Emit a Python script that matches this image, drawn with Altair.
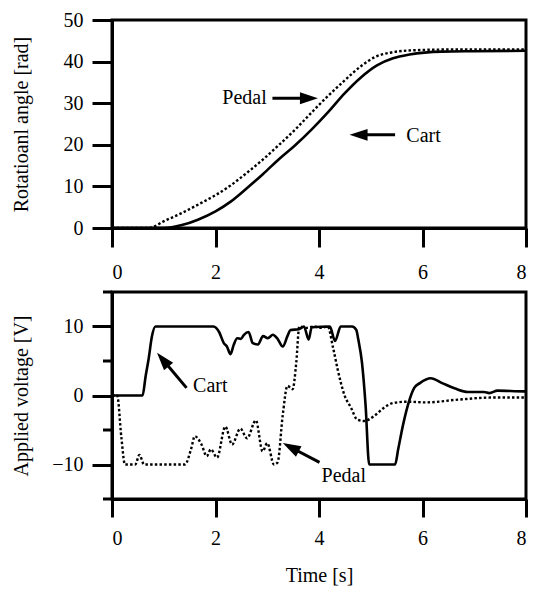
import altair as alt
import pandas as pd

FONT = "Liberation Serif"

# ---------------- Top panel: rotational angle [rad] ----------------
ang_t_cart = [0, 1.0, 1.35, 1.66, 2.0, 2.3, 2.6, 2.92, 3.23, 3.55, 3.86, 4.18,
              4.49, 4.81, 5.12, 5.43, 5.75, 6.38, 7.0, 8.0]
ang_cart = [0, 0, 0.7, 2.0, 4.0, 6.4, 9.5, 13.0, 16.6, 20.0, 23.7, 27.9,
            32.3, 36.2, 39.1, 40.8, 41.7, 42.4, 42.5, 42.6]

ang_t_pedal = [0, 0.7, 1.03, 1.35, 1.66, 2.0, 2.3, 2.6, 2.92, 3.23, 3.55, 3.86, 4.0,
               4.18, 4.49, 4.81, 5.1, 5.4, 5.8, 6.5, 8.0]
ang_pedal = [0, 0, 1.8, 3.6, 5.6, 7.9, 10.3, 13.2, 16.5, 20.0, 23.8, 27.8, 29.6,
             31.8, 35.4, 38.9, 41.2, 42.2, 42.7, 42.9, 42.9]

# ---------------- Bottom panel: applied voltage [V] ----------------
volt_t_cart = [0, 0.59, 0.65, 0.71, 0.77, 0.84, 1.96, 2.07, 2.16, 2.22, 2.29, 2.35,
               2.42, 2.49, 2.55, 2.64, 2.72, 2.82, 2.92, 3.01, 3.11, 3.20, 3.30,
               3.39, 3.45, 3.61, 3.71, 3.80, 3.86, 4.21, 4.31, 4.42, 4.64, 4.72,
               4.76, 4.83, 4.90, 4.97, 5.47, 5.53, 5.62, 5.75, 5.84, 5.95, 6.16,
               6.38, 6.63, 6.88, 7.19, 7.29, 7.45, 7.95, 8.0]
volt_cart = [0, 0, 2.8, 5.4, 8.5, 10, 10, 9.2, 7.6, 7.1, 6.0, 7.3,
             8.3, 8.2, 8.8, 9.2, 7.6, 7.4, 8.6, 8.3, 8.8, 8.2, 7.1,
             8.6, 9.5, 9.6, 10, 8.1, 9.9, 10, 7.9, 10, 10, 9.5,
             8.1, 4.8, -1.4, -10, -10, -7.8, -4.4, -0.6, 1.1, 1.8, 2.5,
             1.8, 1.0, 0.5, 0.5, 0.35, 0.7, 0.6, 0.6]

volt_t_pedal = [0, 0.10, 0.18, 0.25, 0.45, 0.53, 0.62, 1.41, 1.53, 1.60, 1.73, 1.83,
                1.91, 2.03, 2.19, 2.32, 2.48, 2.61, 2.78, 2.91, 3.0, 3.13, 3.20,
                3.30, 3.39, 3.49, 3.56, 3.62, 3.75, 3.9, 4.05, 4.17, 4.27, 4.36,
                4.49, 4.62, 4.74, 4.87, 5.06, 5.25, 5.43, 5.69, 6.06, 6.69, 7.32, 8.0]
volt_pedal = [0, 0, -6, -10, -10, -8.6, -10, -10, -7.7, -5.9, -7.1, -8.8,
              -7.8, -9.0, -4.5, -7.1, -4.8, -6.2, -3.6, -8.1, -6.9, -10, -9.7,
              -2.8, 1.4, 0.9, 4.7, 10, 9.8, 10, 9.8, 10, 7.0, 3.8,
              0.1, -1.8, -3.5, -3.7, -3.0, -1.8, -1.1, -0.9, -1.0, -0.6, -0.3, -0.3]

# ---------------- Annotations ----------------
top_labels = ["Pedal", "Cart"]
top_label_t = [2.56, 6.02]
top_label_v = [31.2, 22.2]
top_tail_t = [3.10, 5.47]
top_tail_v = [31.2, 22.4]
top_head_t = [3.98, 4.59]
top_head_v = [31.2, 22.4]
top_head_angle = [0, 180]

bot_labels = ["Cart", "Pedal"]
bot_label_t = [1.90, 4.48]
bot_label_v = [1.4, -11.6]
bot_tail_t = [1.44, 4.01]
bot_tail_v = [1.1, -9.7]
bot_head_t = [0.87, 3.30]
bot_head_v = [6.2, -6.9]
bot_head_angle = [230, 207.6]

x_ticks = [0, 2, 4, 6, 8]
top_y_ticks = [0, 10, 20, 30, 40, 50]
bot_y_ticks = [-10, 0, 10]
bot_minor_ticks = [-15, -5, 5, 15]

ARROW = "M0,0 L-1,-0.33 L-1,0.33 Z"
PLOT_W = 414


def arrows(tail_t, tail_v, head_t, head_v, angle):
    f = 0.8
    shaft = pd.DataFrame({
        "t": tail_t, "v": tail_v,
        "t2": [a + f * (b - a) for a, b in zip(tail_t, head_t)],
        "v2": [a + f * (b - a) for a, b in zip(tail_v, head_v)],
    })
    heads = pd.DataFrame({"t": head_t, "v": head_v, "ang": angle})
    return shaft, heads


def panel(cart_t, cart_v, ped_t, ped_v, labels, lab_t, lab_v, tail_t, tail_v,
          head_t, head_v, angle, xenc, yenc, height, interp, minor=None):
    cart = pd.DataFrame({"t": cart_t, "v": cart_v})
    ped = pd.DataFrame({"t": ped_t, "v": ped_v})
    text = pd.DataFrame({"t": lab_t, "v": lab_v, "label": labels})
    shaft, heads = arrows(tail_t, tail_v, head_t, head_v, angle)

    l_cart = alt.Chart(cart).mark_line(color="black", strokeWidth=2.6,
                                        interpolate=interp).encode(x=xenc, y=yenc)
    l_ped = alt.Chart(ped).mark_line(color="black", strokeWidth=2.4,
                                      strokeDash=[2.5, 2.2],
                                      interpolate=interp).encode(x=xenc, y=yenc)
    l_text = alt.Chart(text).mark_text(font=FONT, fontSize=20, color="black",
                                        align="center", baseline="middle").encode(
        x=xenc, y=yenc, text="label:N")
    l_shaft = alt.Chart(shaft).mark_rule(color="black", strokeWidth=3).encode(
        x=xenc, y=yenc, x2="t2:Q", y2="v2:Q")
    l_head = alt.Chart(heads).mark_point(shape=ARROW, size=1296, filled=True,
                                         color="black", opacity=1,
                                         strokeWidth=0).encode(
        x=xenc, y=yenc, angle=alt.Angle("ang:Q", scale=None))
    layers = [l_cart, l_ped, l_shaft, l_head, l_text]
    if minor is not None:
        mdf = pd.DataFrame({"v": minor})
        layers.append(alt.Chart(mdf).mark_rule(color="black", strokeWidth=3).encode(
            y=yenc, x=alt.value(-9), x2=alt.value(0)))
    return alt.layer(*layers).properties(width=PLOT_W, height=height)


x_scale = alt.Scale(domain=[0, 8], nice=False, zero=False)

xenc_top = alt.X("t:Q", scale=x_scale,
                 axis=alt.Axis(values=x_ticks, title=None, tickSize=19,
                               labelPadding=15, format="d"))
yenc_top = alt.Y("v:Q", scale=alt.Scale(domain=[0, 50], nice=False),
                 axis=alt.Axis(values=top_y_ticks, title="Rotatioanl angle [rad]",
                               tickSize=20, labelPadding=9, titleX=-81, format="d"))

xenc_bot = alt.X("t:Q", scale=x_scale,
                 axis=alt.Axis(values=x_ticks, title="Time [s]", tickSize=18,
                               labelPadding=11, titlePadding=17, format="d"))
yenc_bot = alt.Y("v:Q", scale=alt.Scale(domain=[-15, 15], nice=False),
                 axis=alt.Axis(values=bot_y_ticks, title="Applied voltage [V]",
                               tickSize=20, labelPadding=9, titleX=-81, format="d"))

top = panel(ang_t_cart, ang_cart, ang_t_pedal, ang_pedal, top_labels, top_label_t,
            top_label_v, top_tail_t, top_tail_v, top_head_t, top_head_v,
            top_head_angle, xenc_top, yenc_top, 208, "monotone")
bottom = panel(volt_t_cart, volt_cart, volt_t_pedal, volt_pedal, bot_labels,
               bot_label_t, bot_label_v, bot_tail_t, bot_tail_v, bot_head_t,
               bot_head_v, bot_head_angle, xenc_bot, yenc_bot, 207, "monotone",
               minor=bot_minor_ticks)

chart = alt.vconcat(top, bottom, spacing=5).properties(
    padding={"left": 1, "top": 0, "right": 0, "bottom": 0}
).configure_view(
    stroke="black", strokeWidth=3
).configure_axis(
    grid=False, domainColor="black", domainWidth=3, tickColor="black",
    tickWidth=3, labelColor="black", labelFont=FONT, labelFontSize=20,
    titleFont=FONT, titleFontSize=20, titleFontWeight="normal", titleColor="black"
)

chart.save("out.html", embed_options={"renderer": "svg", "actions": False})
